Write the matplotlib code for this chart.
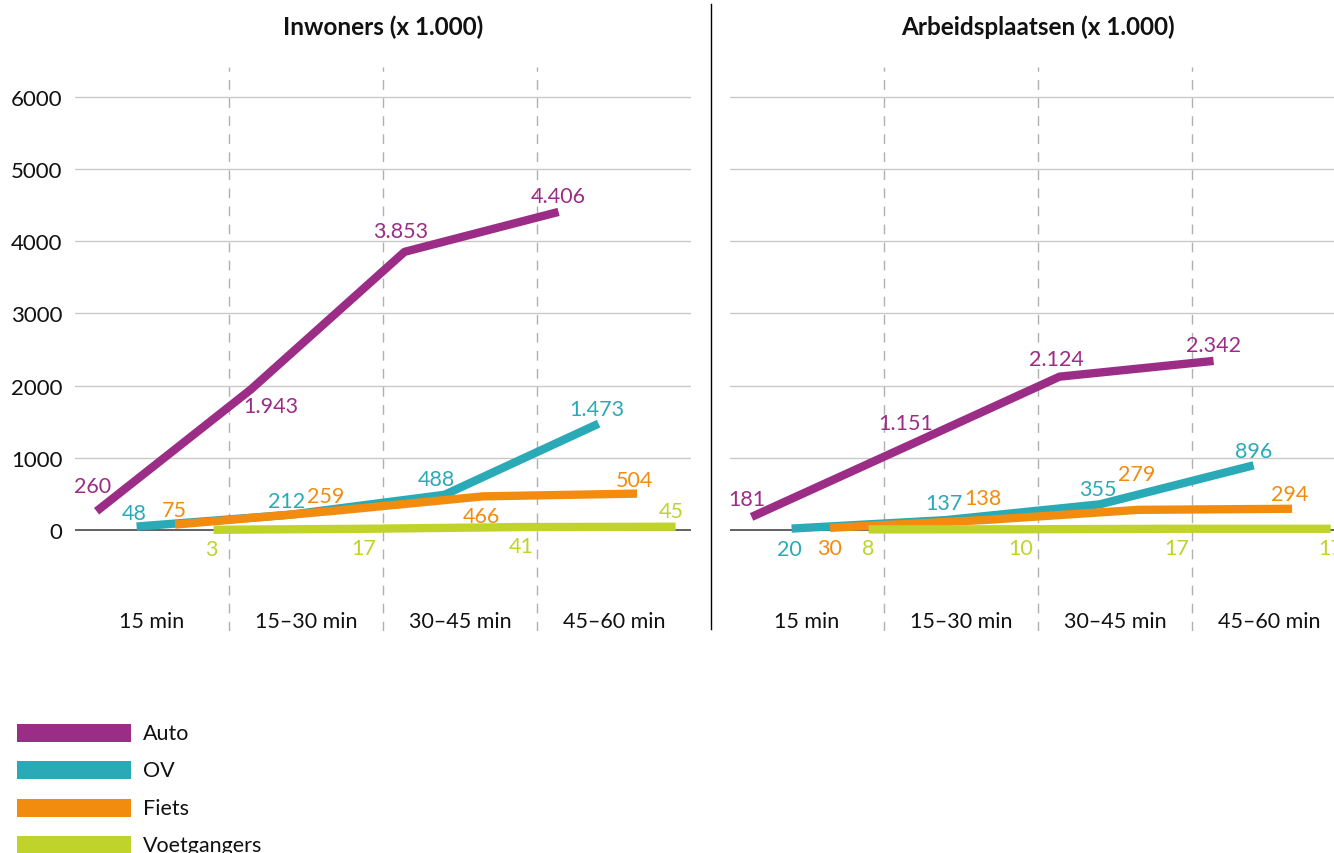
import numpy as np
import matplotlib.pyplot as plt

plt.rcParams['font.family'] = ['Lato', 'DejaVu Sans']

# Data
categorieen = ['15 min', '15–30 min', '30–45 min', '45–60 min']
reeksen = ['Auto', 'OV', 'Fiets', 'Voetgangers']
kleuren = ['#9c2d86', '#2aaab6', '#f28c0e', '#c0d32a']

inwoners = {
    'Auto': [260, 1943, 3853, 4406],
    'OV': [48, 212, 488, 1473],
    'Fiets': [75, 259, 466, 504],
    'Voetgangers': [3, 17, 41, 45],
}
arbeidsplaatsen = {
    'Auto': [181, 1151, 2124, 2342],
    'OV': [20, 137, 355, 896],
    'Fiets': [30, 138, 279, 294],
    'Voetgangers': [8, 10, 17, 17],
}
yticks = [0, 1000, 2000, 3000, 4000, 5000, 6000]

# positie binnen een categorie per reeks
xoffset = {'Auto': 0.14, 'OV': 0.40, 'Fiets': 0.65, 'Voetgangers': 0.90}

# label verschuiving in pixels (dx, dy)
lab_links = {
    'Auto': [(-4, 25), (20, -16), (-4, 21), (0, 16)],
    'OV': [(-2, 14), (-4, 14), (-8, 16), (-2, 15)],
    'Fiets': [(-1, 15), (-3, 15), (-2, -20), (-3, 14)],
    'Voetgangers': [(-2, -19), (-4, -19), (0, -19), (-4, 16)],
}
lab_rechts = {
    'Auto': [(-5, 18), (0, 24), (-3, 18), (0, 16)],
    'OV': [(-2, -20), (-2, 17), (-2, 15), (0, 14)],
    'Fiets': [(-1, -20), (-1, 22), (-1, 36), (-2, 15)],
    'Voetgangers': [(0, -19), (-2, -19), (0, -19), (0, -19)],
}


def fmt(v):
    # Nederlandse duizendtallen
    return f'{v:,}'.replace(',', '.')


W, H = 1334, 854
fig = plt.figure(figsize=(W / 100, H / 100), dpi=100)

ax_h = 564 / H
ax_b = 1 - 632 / H
ax1 = fig.add_axes([75 / W, ax_b, 616 / W, ax_h])
ax2 = fig.add_axes([730 / W, ax_b, 616 / W, ax_h])


def teken(ax, data, labels, titel, toon_y):
    ax.set_xlim(0, 4)
    ax.set_ylim(-1399, 6413)
    for s in ax.spines.values():
        s.set_visible(False)
    ax.set_xticks([])
    ax.set_yticks(yticks)
    ax.tick_params(axis='y', length=0, pad=9, labelsize=16, labelcolor='#111111')
    if not toon_y:
        ax.set_yticklabels([])
    for t in yticks[1:]:
        ax.axhline(t, color='#c9c9c9', lw=1, zorder=1)
    ax.axhline(0, color='#555555', lw=1.3, zorder=1)
    for xv in [1, 2, 3]:
        ax.axvline(xv, color='#b0b0b0', lw=1, dashes=(7, 6), zorder=1)

    for naam, kleur in zip(reeksen, kleuren):
        xs = np.arange(4) + xoffset[naam]
        ys = data[naam]
        ax.plot(xs, ys, color=kleur, lw=6, solid_capstyle='butt', zorder=3)
        for x, y, (dx, dy) in zip(xs, ys, labels[naam]):
            ax.annotate(fmt(y), (x, y), xytext=(dx, dy), textcoords='offset pixels',
                        ha='center', va='center', color=kleur, fontsize=15.5,
                        annotation_clip=False, zorder=4)

    for i, c in enumerate(categorieen):
        ax.text(i + 0.5, -1260, c, ha='center', va='center', fontsize=15.5, color='#111111')

    ax.text(2, 6413 + (68 - 27) / 0.0722, titel, ha='center', va='center',
            fontsize=17.5, fontweight='bold', color='#111111', clip_on=False)


teken(ax1, inwoners, lab_links, 'Inwoners (x 1.000)', True)
teken(ax2, arbeidsplaatsen, lab_rechts, 'Arbeidsplaatsen (x 1.000)', False)

# scheidingslijn tussen de panelen
fig.add_artist(plt.Line2D([711 / W, 711 / W], [1 - 5 / H, 1 - 630 / H], color='black', lw=1))

# legenda
for k, (naam, kleur) in enumerate(zip(reeksen, kleuren)):
    ytop = 725 + k * 37.3
    fig.add_artist(plt.Rectangle((17 / W, 1 - (ytop + 18) / H), 114 / W, 18 / H,
                                 color=kleur, lw=0))
    fig.text(143 / W, 1 - (ytop + 9) / H, naam, ha='left', va='center', fontsize=15.5,
             color='#111111')

fig.savefig('out.png', dpi=100)
